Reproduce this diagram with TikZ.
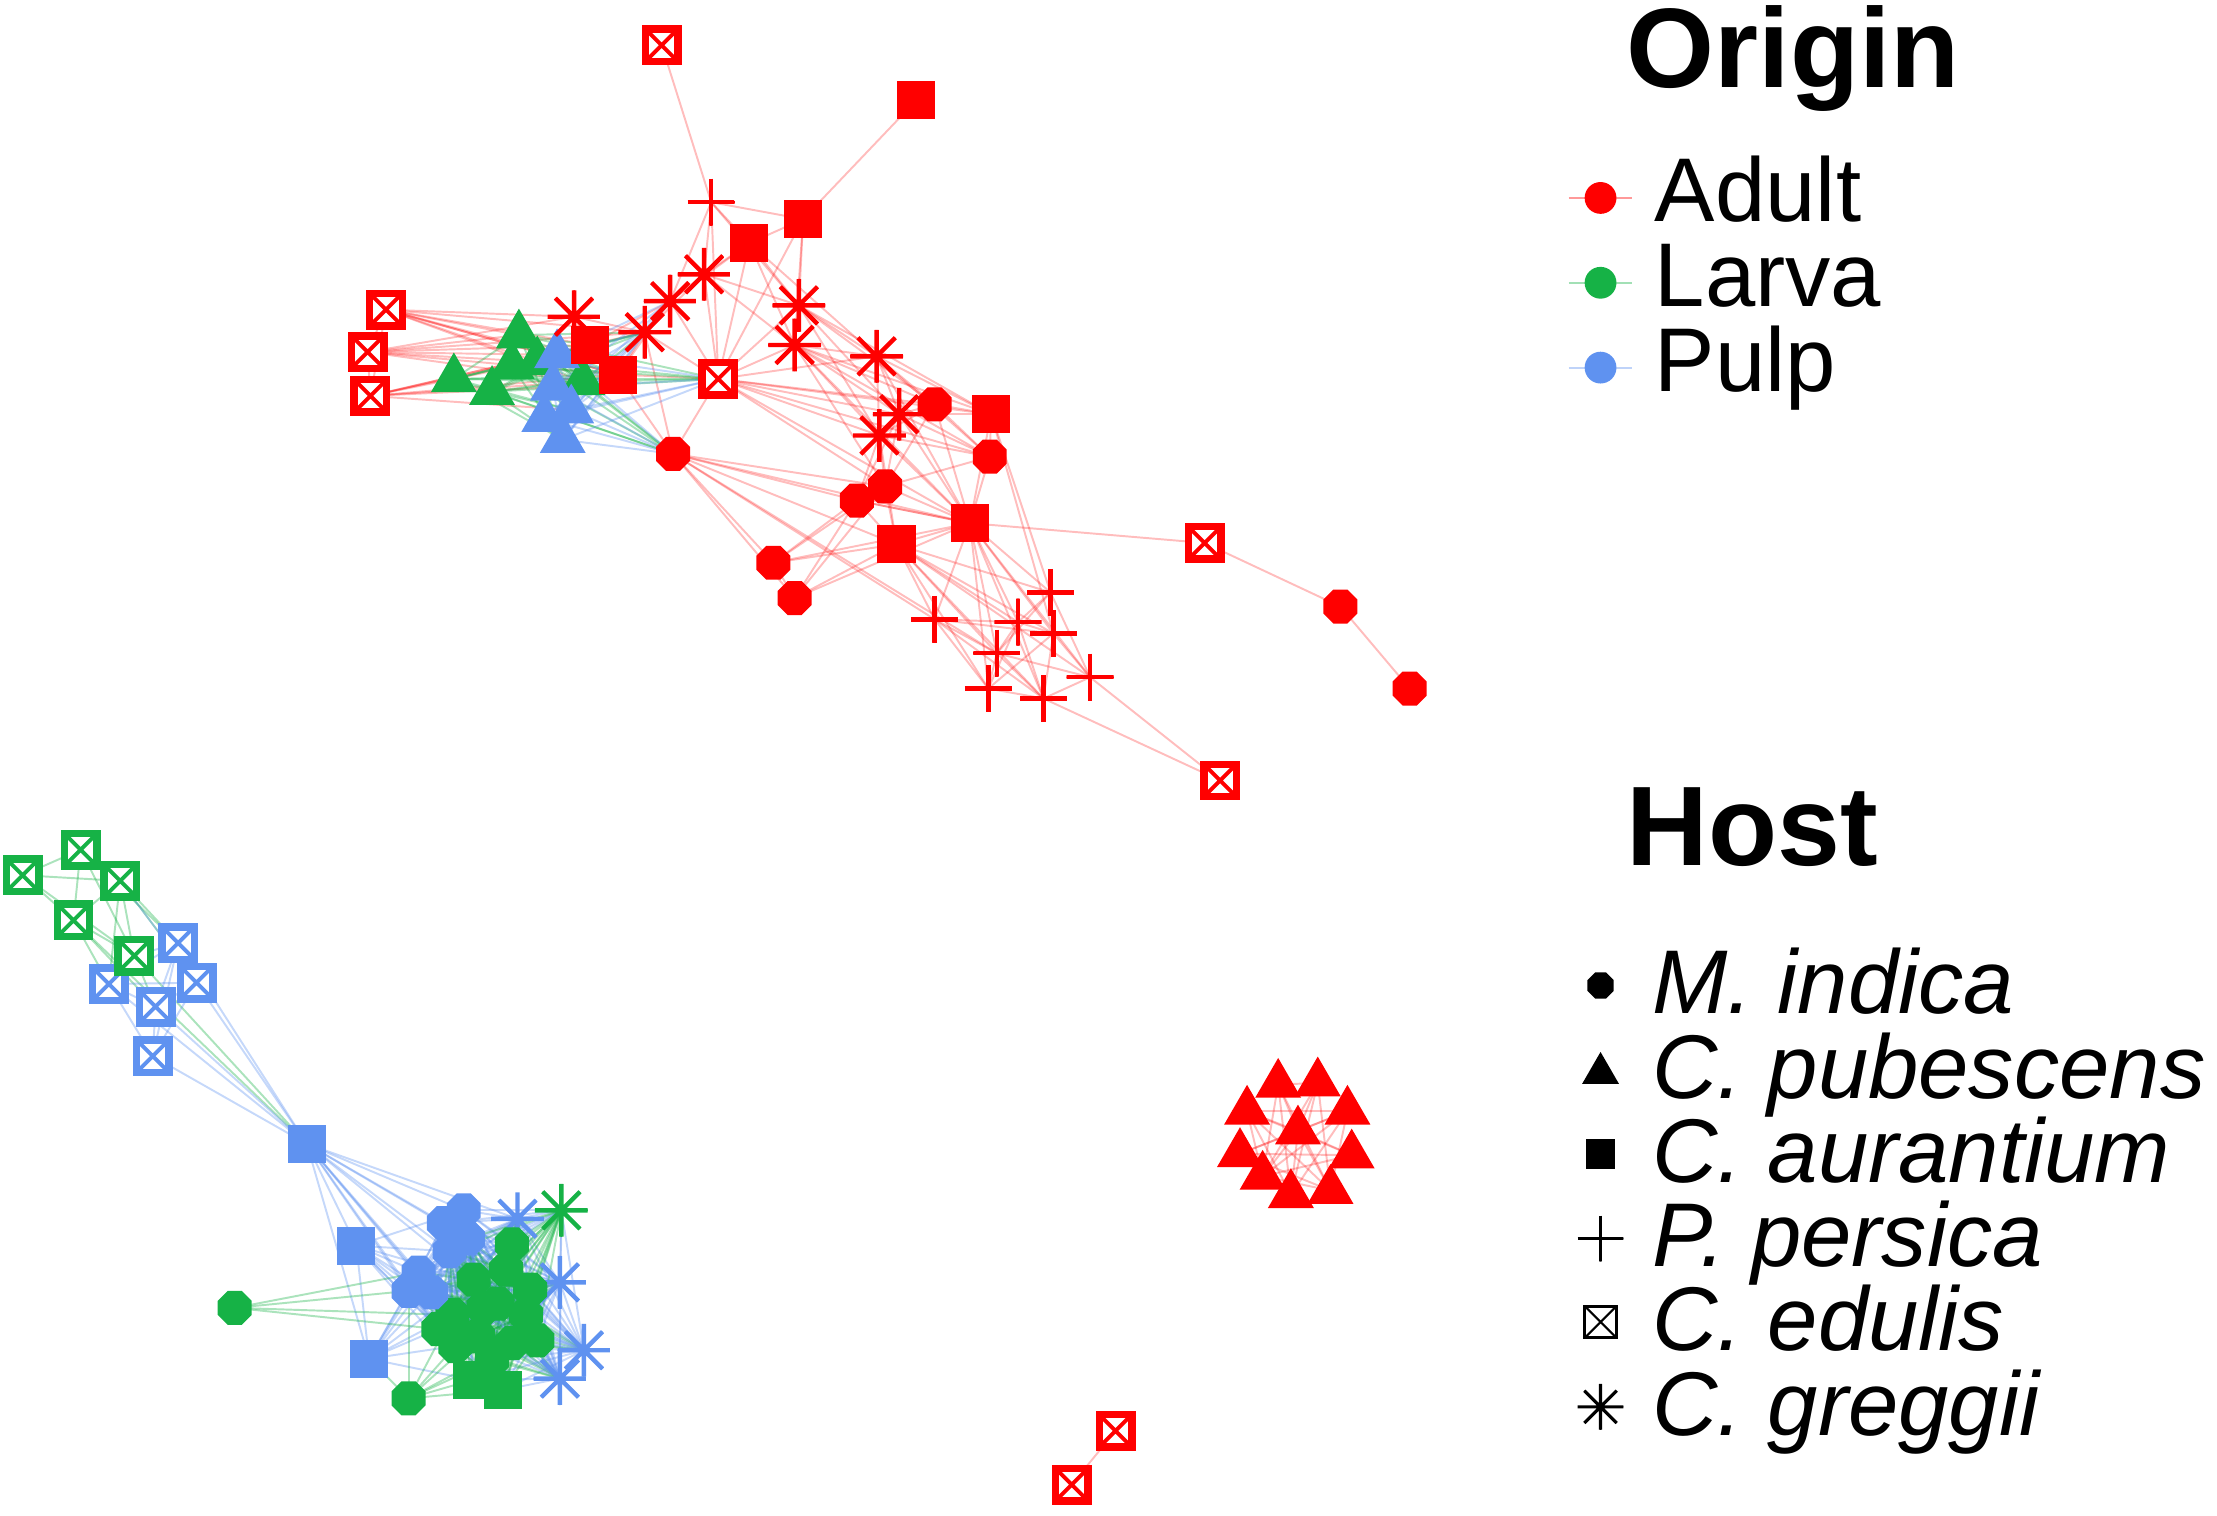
\documentclass[tikz,border=0pt]{standalone}
\usepackage{fontspec}
\newfontfamily\lsans{Liberation Sans}
\usetikzlibrary{shapes.geometric}
\pgfdeclarelayer{bg}
\pgfsetlayers{bg,main}
\definecolor{cR}{RGB}{255,0,0}
\definecolor{cG}{RGB}{22,178,70}
\definecolor{cB}{RGB}{95,146,240}
\tikzset{
  mk/.style={inner sep=0pt, outer sep=0pt},
  oct/.style={mk, regular polygon, regular polygon sides=8, minimum size=10.4pt, fill=#1},
  tri/.style={mk, regular polygon, regular polygon sides=3, minimum size=15pt, fill=#1},
  sqr/.style={mk, rectangle, minimum size=10.8pt, fill=#1},
  pls/.style={mk, circle, minimum size=13.4pt, path picture={\draw[#1, line width=1.25pt] (path picture bounding box.north) -- (path picture bounding box.south) (path picture bounding box.west) -- (path picture bounding box.east);}},
  ast/.style={mk, circle, minimum size=15pt, path picture={\draw[#1, line width=1.25pt] (path picture bounding box.north) -- (path picture bounding box.south) (path picture bounding box.west) -- (path picture bounding box.east) (path picture bounding box.north west) -- (path picture bounding box.south east) (path picture bounding box.north east) -- (path picture bounding box.south west);}},
  edu/.style={mk, rectangle, minimum size=9.2pt, draw=#1, line width=2.1pt, fill=white, path picture={\draw[#1, line width=1.1pt] (path picture bounding box.north west) -- (path picture bounding box.south east) (path picture bounding box.north east) -- (path picture bounding box.south west);}},
  lpls/.style={mk, circle, minimum size=13pt, path picture={\draw[black, line width=0.9pt] (path picture bounding box.north) -- (path picture bounding box.south) (path picture bounding box.west) -- (path picture bounding box.east);}},
  last/.style={mk, circle, minimum size=13pt, path picture={\draw[black, line width=0.9pt] (path picture bounding box.north) -- (path picture bounding box.south) (path picture bounding box.west) -- (path picture bounding box.east) (path picture bounding box.north west) -- (path picture bounding box.south east) (path picture bounding box.north east) -- (path picture bounding box.south west);}},
  ledu/.style={mk, rectangle, minimum size=9pt, draw=black, line width=0.8pt, fill=white, path picture={\draw[black, line width=0.6pt] (path picture bounding box.north west) -- (path picture bounding box.south east) (path picture bounding box.north east) -- (path picture bounding box.south west);}},
  redge/.style={draw=cR, opacity=0.26, line width=0.55pt},
  gedge/.style={draw=cG, opacity=0.36, line width=0.55pt},
  bedge/.style={draw=cB, opacity=0.36, line width=0.55pt},
  ttl/.style={anchor=base west, inner sep=0pt, font=\lsans\bfseries\fontsize{32}{32}\selectfont},
  itm/.style={anchor=base west, inner sep=0pt, font=\lsans\fontsize{25.6}{26}\selectfont},
  iti/.style={anchor=base west, inner sep=0pt, font=\lsans\itshape\fontsize{25.6}{26}\selectfont},
  ldot/.style={mk, circle, minimum size=9pt, fill=#1},
}
\begin{document}
\begin{tikzpicture}[x=0.4pt, y=-0.4pt]
\useasboundingbox (0,0) rectangle (1568,1072);
% ---------- top cluster (Adult) ----------
\node[edu=cR] (eA) at (468,32) {};
\node[edu=cR] (eB) at (273,219) {};
\node[edu=cR] (eC) at (260,249) {};
\node[edu=cR] (eD) at (262,280) {};
\node[sqr=cR] (sA) at (648,71) {};
\node[sqr=cR] (sB) at (568,155) {};
\node[sqr=cR] (sC) at (530,172) {};
\node[sqr=cR] (sF) at (701,293) {};
\node[sqr=cR] (sG) at (686,370) {};
\node[sqr=cR] (sH) at (634,385) {};
\node[pls=cR] (pA) at (503,143) {};
\node[pls=cR] (pB) at (661,438) {};
\node[pls=cR] (pC) at (743,419) {};
\node[pls=cR] (pD) at (720,440) {};
\node[pls=cR] (pE) at (745,448) {};
\node[pls=cR] (pF) at (705,462) {};
\node[pls=cR] (pG) at (699,487) {};
\node[pls=cR] (pH) at (738,494) {};
\node[pls=cR] (pI) at (771,479) {};
\node[ast=cR] (aC) at (474,213) {};
\node[ast=cR] (aD) at (498,194) {};
\node[ast=cR] (aE) at (565,216) {};
\node[ast=cR] (aF) at (562,244) {};
\node[ast=cR] (aG) at (620,252) {};
\node[ast=cR] (aH) at (636,293) {};
\node[ast=cR] (aI) at (622,308) {};
\node[oct=cR] (oA) at (476,321) {};
\node[oct=cR] (oB) at (661,286) {};
\node[oct=cR] (oC) at (700,323) {};
\node[oct=cR] (oD) at (626,344) {};
\node[oct=cR] (oE) at (606,354) {};
\node[oct=cR] (oF) at (547,398) {};
\node[oct=cR] (oG) at (562,423) {};
\node[oct=cR] (oH) at (948,429) {};
\node[oct=cR] (oI) at (997,487) {};
\node[edu=cR] (eF) at (852,384) {};
\node[edu=cR] (eG) at (863,552) {};
% triangles
\node[tri=cG] (gt1) at (321,268) {};
\node[tri=cG] (gt2) at (367,237) {};
\node[tri=cG] (gt6) at (380,256) {};
\node[tri=cG] (gt3) at (362,259) {};
\node[tri=cG] (gt4) at (348,277) {};
\node[tri=cG] (gt5) at (412,270) {};
\node[tri=cB] (bt1) at (394,251) {};
\node[tri=cB] (bt2) at (391,274) {};
\node[tri=cB] (bt3) at (404,290) {};
\node[tri=cB] (bt4) at (385,296) {};
\node[tri=cB] (bt5) at (398,311) {};
\node[ast=cR] (aA) at (406,224) {};
\node[sqr=cR] (sD) at (417,244) {};
\node[sqr=cR] (sE) at (437,265) {};
\node[ast=cR] (aB) at (456,235) {};
\node[edu=cR] (eE) at (508,268) {};
% ---------- red triangles ----------
\node[tri=cR] (rt1) at (904,767) {};
\node[tri=cR] (rt2) at (932,766) {};
\node[tri=cR] (rt3) at (882,786) {};
\node[tri=cR] (rt4) at (953,786) {};
\node[tri=cR] (rt5) at (918,800) {};
\node[tri=cR] (rt6) at (877,816) {};
\node[tri=cR] (rt7) at (956,817) {};
\node[tri=cR] (rt8) at (893,832) {};
\node[tri=cR] (rt9) at (913,845) {};
\node[tri=cR] (rt10) at (941,842) {};
\node[edu=cR] (eH) at (789,1012) {};
\node[edu=cR] (eI) at (758,1050) {};
% ---------- bottom-left cluster ----------
\node[edu=cG] (ge1) at (16,619) {};
\node[edu=cG] (ge2) at (57,601) {};
\node[edu=cG] (ge3) at (85,623) {};
\node[edu=cG] (ge4) at (52,651) {};
\node[edu=cB] (be1) at (126,667) {};
\node[edu=cB] (be2) at (139,695) {};
\node[edu=cB] (be3) at (77,696) {};
\node[edu=cB] (be4) at (110,712) {};
\node[edu=cB] (be5) at (108,747) {};
\node[edu=cG] (ge5) at (95,676) {};
\node[sqr=cB] (bs1) at (217,809) {};
\node[sqr=cB] (bs2) at (252,881) {};
\node[sqr=cB] (bs3) at (261,961) {};
\node[oct=cG] (go1) at (166,925) {};
\node[oct=cG] (go2) at (289,989) {};
\node[ast=cB] (ba1) at (366,862) {};
\node[ast=cB] (ba2) at (396,907) {};
\node[ast=cB] (ba3) at (413,955) {};
\node[ast=cB] (ba4) at (396,975) {};
\node[ast=cG] (ga1) at (397,856) {};
\node[oct=cG] (gc1) at (320,930) {};
\node[oct=cG] (gc2) at (338,945) {};
\node[oct=cG] (gc3) at (352,922) {};
\node[oct=cG] (gc4) at (335,905) {};
\node[oct=cG] (gc5) at (362,950) {};
\node[oct=cG] (gc6) at (348,962) {};
\node[oct=cG] (gc7) at (322,952) {};
\node[oct=cG] (gc8) at (372,930) {};
\node[oct=cG] (gc9) at (358,898) {};
\node[oct=cG] (gc10) at (380,948) {};
\node[oct=cG] (gc11) at (342,925) {};
\node[oct=cG] (gc12) at (310,940) {};
\node[oct=cG] (gc13) at (375,912) {};
\node[oct=cG] (gc14) at (362,880) {};
\node[sqr=cG] (gs1) at (334,976) {};
\node[sqr=cG] (gs2) at (356,983) {};
\node[oct=cB] (bo1) at (328,856) {};
\node[oct=cB] (bo2) at (314,865) {};
\node[oct=cB] (bo6) at (331,876) {};
\node[oct=cB] (bo7) at (318,885) {};
\node[oct=cB] (bo3) at (296,900) {};
\node[oct=cB] (bo4) at (289,913) {};
\node[oct=cB] (bo5) at (305,914) {};
% ---------- edges ----------
\begin{pgfonlayer}{bg}
\foreach \a/\b in {eA/pA, sA/sB, pA/sC, pA/aD, pA/aC, pA/eE, pA/sB, pA/aE,
  sC/aD, sC/aE, sC/eE, sC/aF, sC/aC, sC/sB, sC/aG, sB/aE, sB/aF, sB/eE,
  aD/aC, aD/aB, aD/eE, aD/aE, aD/aF, aC/aB, aC/eE, aC/sD, aC/sE,
  aB/sD, aB/sE, aB/eE, aB/aA, aA/sD, aA/sE, aA/eB, aA/eC,
  sD/sE, sD/eB, sD/eC, sD/eD, sE/eB, sE/eC, sE/eD, sE/eE, sE/oA,
  eB/eC, eC/eD, eB/eD,
  eE/aE, eE/aF, eE/aG, eE/aH, eE/aI, eE/oA, eE/sF, eE/oB, eE/oC, eE/sG, eE/oD,
  aE/aF, aE/aG, aE/aH, aE/oB, aE/sF, aE/aI,
  aF/aG, aF/aH, aF/aI, aF/oB, aF/sF, aF/oC, aF/sG, aF/oD,
  aG/aH, aG/aI, aG/oB, aG/sF, aG/oC, aG/sG,
  aH/aI, aH/oB, aH/sF, aH/oC, aH/sG, aH/oD, aH/oE,
  aI/oD, aI/oE, aI/sH, aI/sG, aI/oC, aI/oB,
  oB/sF, oB/oC, oB/oD, oB/sG, oC/sF, oC/sG, oC/oD, oD/oE, oD/sH, oD/sG, oE/sH, oE/sG,
  oA/oD, oA/oE, oA/oF, oA/oG, oA/sH, oA/sG, oA/pB, oA/pF, oA/aB,
  oF/oG, oF/oD, oF/oE, oF/sH, oF/sG, oG/oD, oG/oE, oG/sH, oG/sG,
  sH/sG, sH/pB, sH/pC, sH/pD, sH/pE, sH/pF, sH/pG, sH/pH, sH/pI,
  sG/pB, sG/pC, sG/pD, sG/pE, sG/pF, sG/pG, sG/pH, sG/pI, sG/eF, sG/sF, sG/oE,
  sF/pC, sF/pE,
  pB/pD, pB/pF, pB/pG, pB/pH, pB/pE, pC/pD, pC/pE, pC/pI, pD/pE, pD/pF, pD/pG, pD/pH,
  pE/pI, pE/pH, pF/pG, pF/pH, pF/pI, pG/pH, pH/pI, pC/pF, pE/pG,
  pI/eG, pH/eG, eF/oH, oH/oI,
  eB/gt2, eB/gt5, eB/bt1, eC/gt5, eC/bt1, eC/gt6, eD/gt5, eD/bt3, eD/bt2, eB/aB, eC/aB, eD/sD,
  eB/sE, eC/gt2, eD/gt6, eB/gt6, eD/bt1,
  eH/eI}
  \draw[redge] (\a.center) -- (\b.center);
\foreach \t in {gt1,gt2,gt3,gt4,gt5,gt6}
  \foreach \u in {eE,oA,aB,sD,sE,bt1,bt3,bt5,gt5,gt2}
    \draw[gedge] (\t.center) -- (\u.center);
\foreach \t in {bt1,bt2,bt3,bt4,bt5}
  \foreach \u in {eE,oA,aB,sE,aC,bt1,bt5}
    \draw[bedge] (\t.center) -- (\u.center);
% red triangle mesh
\foreach \a/\b in {rt1/rt5, rt2/rt5, rt3/rt5, rt4/rt5, rt6/rt5, rt7/rt5, rt8/rt5, rt9/rt5, rt10/rt5,
  rt1/rt9, rt2/rt9, rt3/rt10, rt4/rt8, rt3/rt4, rt1/rt10, rt2/rt8, rt6/rt7, rt3/rt7, rt4/rt6,
  rt1/rt2, rt8/rt10, rt3/rt9, rt4/rt9, rt6/rt10, rt7/rt8, rt1/rt8, rt2/rt10, rt3/rt8, rt4/rt10}
  \draw[redge] (\a.center) -- (\b.center);
% edulis mesh bottom-left
\foreach \a/\b in {ge1/ge2, ge1/ge3, ge1/ge4, ge1/ge5, ge2/ge3, ge2/ge4, ge2/ge5, ge3/ge4, ge3/ge5, ge4/ge5,
  ge3/be1, ge3/be2, ge4/be3, ge5/be4, ge2/be1, ge4/be4, ge5/bs1, ge4/bs1, ge3/be3}
  \draw[gedge] (\a.center) -- (\b.center);
\foreach \a/\b in {be1/be2, be1/be3, be1/be4, be1/be5, be2/be3, be2/be4, be2/be5, be3/be4, be3/be5, be4/be5,
  be1/bs1, be2/bs1, be3/bs1, be4/bs1, be5/bs1, be1/ge5, be3/ge5, be2/ge3}
  \draw[bedge] (\a.center) -- (\b.center);
\foreach \u in {bo1,bo2,bo3,bo4,bo5,bo6,bo7,bs2,bs3,ba1,gc4,gc1,gc12}
  \draw[bedge] (bs1.center) -- (\u.center);
\foreach \s in {bs2,bs3}
  \foreach \u in {bo1,bo3,bo4,bo5,bo7,gc1,gc7,gc12,gs1,gc4}
    \draw[bedge] (\s.center) -- (\u.center);
\draw[bedge] (bs2.center) -- (bs3.center);
\foreach \u in {bo3,bo4,gc12,gc1}
  \draw[gedge] (go1.center) -- (\u.center);
\foreach \u in {gc1,gc7,gc2,gs1,gs2,gc6,bo4,gc5,bs3}
  \draw[gedge] (go2.center) -- (\u.center);
\def\corelist{bo1/bedge,gc1/gedge,ba1/bedge,gc2/gedge,bo2/bedge,gc3/gedge,ba2/bedge,gc4/gedge,bo3/bedge,gc5/gedge,ba3/bedge,gc6/gedge,bo4/bedge,gc7/gedge,ba4/bedge,gc8/gedge,bo5/bedge,gc9/gedge,ga1/gedge,gc10/gedge,bo6/bedge,gc11/gedge,gs1/gedge,gc12/gedge,bo7/bedge,gc13/gedge,gs2/gedge,gc14/gedge}
\def\corenames{bo1,gc1,ba1,gc2,bo2,gc3,ba2,gc4,bo3,gc5,ba3,gc6,bo4,gc7,ba4,gc8,bo5,gc9,ga1,gc10,bo6,gc11,gs1,gc12,bo7,gc13,gs2,gc14}
\foreach \x/\c [count=\i] in \corelist {
  \foreach \y [count=\j] in \corenames {
    \ifnum\j>\i \draw[\c] (\x.center) -- (\y.center); \fi
  }
}
\end{pgfonlayer}
% ---------- legend ----------
\node[ttl] (tOrigin) at (1150,62) {Origin};
\node[ldot=cR] (dA) at (1132,140) {};
\node[ldot=cG] (dL) at (1132,200) {};
\node[ldot=cB] (dP) at (1132,260) {};
\begin{pgfonlayer}{bg}
\draw[redge, opacity=0.4] ([xshift=-9pt]dA.center) -- ([xshift=9pt]dA.center);
\draw[gedge, opacity=0.4] ([xshift=-9pt]dL.center) -- ([xshift=9pt]dL.center);
\draw[bedge, opacity=0.4] ([xshift=-9pt]dP.center) -- ([xshift=9pt]dP.center);
\end{pgfonlayer}
\node[itm] (tA) at (1170,157) {Adult};
\node[itm] (tL) at (1170,217) {Larva};
\node[itm] (tP) at (1170,277) {Pulp};
\node[ttl] (tHost) at (1150,612) {Host};
\node[oct=black, minimum size=8pt] (hM) at (1132,697) {};
\node[tri=black, minimum size=12pt] (hCp) at (1132,759) {};
\node[sqr=black, minimum size=8.4pt] (hCa) at (1132,816) {};
\node[lpls] (hP) at (1132,876) {};
\node[ledu] (hCe) at (1132,935) {};
\node[last] (hCg) at (1132,995) {};
\node[iti] (tM) at (1168,717) {M. indica};
\node[iti] (tCp) at (1168,777) {C. pubescens};
\node[iti] (tCa) at (1168,836) {C. aurantium};
\node[iti] (tPp) at (1168,896) {P. persica};
\node[iti] (tCe) at (1168,955) {C. edulis};
\node[iti] (tCg) at (1168,1015) {C. greggii};
\end{tikzpicture}
\end{document}
